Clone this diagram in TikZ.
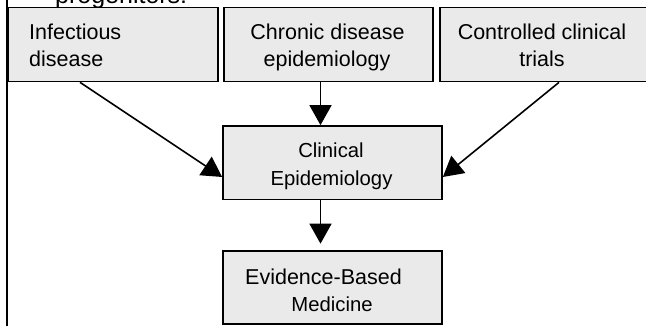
\documentclass[tikz,border=0pt]{standalone}
\usepackage{fontspec}
\setmainfont{Liberation Sans}
\usetikzlibrary{arrows.meta}
\definecolor{boxgray}{RGB}{234,234,234}
\tikzset{
  box/.style={draw=black, line width=1.7pt, fill=boxgray, rectangle, inner sep=0pt},
  txt/.style={inner sep=0pt, font=\fontsize{21.5}{26}\selectfont},
  txtsm/.style={inner sep=0pt, font=\fontsize{20.3}{26}\selectfont},
  conn/.style={line width=1.6pt, -{Triangle[length=20pt,width=22pt]}},
}
\begin{document}
\begin{tikzpicture}[x=1pt,y=1pt]
\useasboundingbox (0,0) rectangle (646,-326);
\clip (0,0) rectangle (646,-326);
% cut-off heading
\node[inner sep=0pt, anchor=base west, font=\fontsize{25}{30}\selectfont] (head) at (55,-3.5) {progenitors:};
% left rule
\coordinate (rt) at (6.5,0);
\coordinate (rb) at (6.5,-326);
\draw[line width=2pt] (rt) -- (rb);
% boxes
\node[box, minimum width=210pt, minimum height=74pt] (b1) at (113,-44.5) {};
\node[box, minimum width=209pt, minimum height=74pt] (b2) at (328.5,-44.5) {};
\node[box, minimum width=210pt, minimum height=74pt] (b3) at (545,-44.5) {};
\node[box, minimum width=219pt, minimum height=73.5pt] (b4) at (332.5,-162.75) {};
\node[box, minimum width=219pt, minimum height=73pt] (b5) at (332.5,-287.5) {};
% texts
\node[txt, anchor=base west] (t1a) at (29,-40) {Infectious};
\node[txt, anchor=base west] (t1b) at (29,-67) {disease};
\node[txt, anchor=base] (t2a) at (327.5,-40) {Chronic disease};
\node[txt, anchor=base] (t2b) at (327,-67) {epidemiology};
\node[txt, anchor=base] (t3a) at (542,-40) {Controlled clinical};
\node[txt, anchor=base] (t3b) at (542,-67) {trials};
\node[txtsm, anchor=base] (t4a) at (331,-158) {Clinical};
\node[txtsm, anchor=base] (t4b) at (331.5,-185.5) {Epidemiology};
\node[txt, anchor=base] (t5a) at (323.5,-284) {Evidence-Based};
\node[txtsm, anchor=base] (t5b) at (332,-311.5) {Medicine};
% connectors
\draw[conn] ([xshift=-33pt]b1.south) -- ([yshift=-14.25pt]b4.west);
\draw[conn] ([xshift=-8pt]b2.south) -- ([xshift=-12pt]b4.north);
\draw[conn] ([xshift=14pt]b3.south) -- ([yshift=-14.25pt]b4.east);
\draw[conn, shorten >=6.5pt] ([xshift=-12pt]b4.south) -- ([xshift=-12pt]b5.north);
\end{tikzpicture}
\end{document}
